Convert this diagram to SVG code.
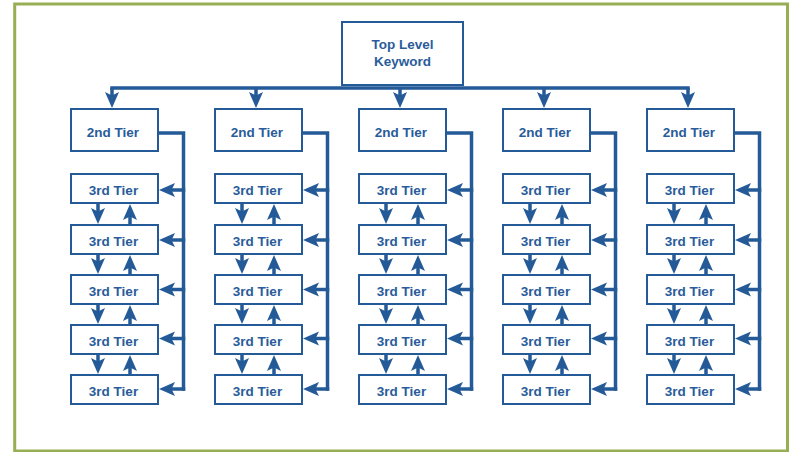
<svg xmlns="http://www.w3.org/2000/svg" width="792" height="452" viewBox="0 0 792 452">
<defs>
<style>
.frame{fill:#fff;stroke:#98AE55;stroke-width:3}
.box{fill:#fff;stroke:#235A97;stroke-width:2}
.ln{fill:none;stroke:#235A97;stroke-width:3.5}
.arr{fill:none;stroke:#235A97;stroke-width:3.5;marker-end:url(#ah)}
.t{font-family:"Liberation Sans",Arial,sans-serif;font-weight:bold;font-size:13.5px;fill:#2A5C9A;text-anchor:middle}
</style>
<marker id="ah" viewBox="0 0 16 16" refX="6" refY="8" markerWidth="16" markerHeight="16" orient="auto" markerUnits="userSpaceOnUse">
<path d="M0,1 L16,8 L0,15 L3.5,8 Z" fill="#235A97"/>
</marker>
</defs>
<rect class="frame" x="14.7" y="4" width="772.8" height="447"/>

<g id="connectors">
<path class="ln" d="M110.25,88 H689.75"/>
<path class="arr" d="M112,88 V98"/>
<path class="arr" d="M256,88 V98"/>
<path class="arr" d="M400,88 V98"/>
<path class="arr" d="M544,88 V98"/>
<path class="arr" d="M688,88 V98"/>
<path class="ln" d="M158,133 H183.5 V390.75"/>
<path class="ln" d="M302,133 H327.5 V390.75"/>
<path class="ln" d="M446,133 H471.5 V390.75"/>
<path class="ln" d="M590,133 H615.5 V390.75"/>
<path class="ln" d="M734,133 H759.5 V390.75"/>
<path class="arr" d="M185.25,190 H169"/><path class="arr" d="M185.25,240 H169"/><path class="arr" d="M185.25,289.5 H169"/><path class="arr" d="M185.25,338.5 H169"/><path class="arr" d="M185.25,389 H169"/>
<path class="arr" d="M329.25,190 H313"/><path class="arr" d="M329.25,240 H313"/><path class="arr" d="M329.25,289.5 H313"/><path class="arr" d="M329.25,338.5 H313"/><path class="arr" d="M329.25,389 H313"/>
<path class="arr" d="M473.25,190 H457"/><path class="arr" d="M473.25,240 H457"/><path class="arr" d="M473.25,289.5 H457"/><path class="arr" d="M473.25,338.5 H457"/><path class="arr" d="M473.25,389 H457"/>
<path class="arr" d="M617.25,190 H601"/><path class="arr" d="M617.25,240 H601"/><path class="arr" d="M617.25,289.5 H601"/><path class="arr" d="M617.25,338.5 H601"/><path class="arr" d="M617.25,389 H601"/>
<path class="arr" d="M761.25,190 H745"/><path class="arr" d="M761.25,240 H745"/><path class="arr" d="M761.25,289.5 H745"/><path class="arr" d="M761.25,338.5 H745"/><path class="arr" d="M761.25,389 H745"/>
<!-- down arrows -->
<path class="arr" d="M98,204 V214"/><path class="arr" d="M98,255 V264"/><path class="arr" d="M98,305 V314"/><path class="arr" d="M98,355 V364"/>
<path class="arr" d="M242,204 V214"/><path class="arr" d="M242,255 V264"/><path class="arr" d="M242,305 V314"/><path class="arr" d="M242,355 V364"/>
<path class="arr" d="M386,204 V214"/><path class="arr" d="M386,255 V264"/><path class="arr" d="M386,305 V314"/><path class="arr" d="M386,355 V364"/>
<path class="arr" d="M530,204 V214"/><path class="arr" d="M530,255 V264"/><path class="arr" d="M530,305 V314"/><path class="arr" d="M530,355 V364"/>
<path class="arr" d="M674,204 V214"/><path class="arr" d="M674,255 V264"/><path class="arr" d="M674,305 V314"/><path class="arr" d="M674,355 V364"/>
<!-- up arrows -->
<path class="arr" d="M130,224 V214"/><path class="arr" d="M130,274 V265"/><path class="arr" d="M130,324 V315"/><path class="arr" d="M130,374 V365"/>
<path class="arr" d="M274,224 V214"/><path class="arr" d="M274,274 V265"/><path class="arr" d="M274,324 V315"/><path class="arr" d="M274,374 V365"/>
<path class="arr" d="M418,224 V214"/><path class="arr" d="M418,274 V265"/><path class="arr" d="M418,324 V315"/><path class="arr" d="M418,374 V365"/>
<path class="arr" d="M562,224 V214"/><path class="arr" d="M562,274 V265"/><path class="arr" d="M562,324 V315"/><path class="arr" d="M562,374 V365"/>
<path class="arr" d="M706,224 V214"/><path class="arr" d="M706,274 V265"/><path class="arr" d="M706,324 V315"/><path class="arr" d="M706,374 V365"/>
</g>

<g id="top"><rect class="box" x="342" y="22" width="121" height="63"/><text class="t" x="402.5" y="49">Top Level</text><text class="t" x="402.5" y="65.5">Keyword</text></g>

<g id="c1-t2"><rect class="box" x="71" y="109" width="87" height="42"/><text class="t" x="113" y="136.5">2nd Tier</text></g>
<g id="c2-t2"><rect class="box" x="215" y="109" width="87" height="42"/><text class="t" x="257" y="136.5">2nd Tier</text></g>
<g id="c3-t2"><rect class="box" x="359" y="109" width="87" height="42"/><text class="t" x="401" y="136.5">2nd Tier</text></g>
<g id="c4-t2"><rect class="box" x="503" y="109" width="87" height="42"/><text class="t" x="545" y="136.5">2nd Tier</text></g>
<g id="c5-t2"><rect class="box" x="647" y="109" width="87" height="42"/><text class="t" x="689" y="136.5">2nd Tier</text></g>

<g id="c1-a"><rect class="box" x="71" y="174" width="87" height="29"/><text class="t" x="113.5" y="194.5">3rd Tier</text></g>
<g id="c1-b"><rect class="box" x="71" y="225" width="87" height="29"/><text class="t" x="113.5" y="245.5">3rd Tier</text></g>
<g id="c1-c"><rect class="box" x="71" y="275" width="87" height="29"/><text class="t" x="113.5" y="295.5">3rd Tier</text></g>
<g id="c1-d"><rect class="box" x="71" y="325" width="87" height="29"/><text class="t" x="113.5" y="345.5">3rd Tier</text></g>
<g id="c1-e"><rect class="box" x="71" y="375" width="87" height="29"/><text class="t" x="113.5" y="395.5">3rd Tier</text></g>

<g id="c2-a"><rect class="box" x="215" y="174" width="87" height="29"/><text class="t" x="257.5" y="194.5">3rd Tier</text></g>
<g id="c2-b"><rect class="box" x="215" y="225" width="87" height="29"/><text class="t" x="257.5" y="245.5">3rd Tier</text></g>
<g id="c2-c"><rect class="box" x="215" y="275" width="87" height="29"/><text class="t" x="257.5" y="295.5">3rd Tier</text></g>
<g id="c2-d"><rect class="box" x="215" y="325" width="87" height="29"/><text class="t" x="257.5" y="345.5">3rd Tier</text></g>
<g id="c2-e"><rect class="box" x="215" y="375" width="87" height="29"/><text class="t" x="257.5" y="395.5">3rd Tier</text></g>

<g id="c3-a"><rect class="box" x="359" y="174" width="87" height="29"/><text class="t" x="401.5" y="194.5">3rd Tier</text></g>
<g id="c3-b"><rect class="box" x="359" y="225" width="87" height="29"/><text class="t" x="401.5" y="245.5">3rd Tier</text></g>
<g id="c3-c"><rect class="box" x="359" y="275" width="87" height="29"/><text class="t" x="401.5" y="295.5">3rd Tier</text></g>
<g id="c3-d"><rect class="box" x="359" y="325" width="87" height="29"/><text class="t" x="401.5" y="345.5">3rd Tier</text></g>
<g id="c3-e"><rect class="box" x="359" y="375" width="87" height="29"/><text class="t" x="401.5" y="395.5">3rd Tier</text></g>

<g id="c4-a"><rect class="box" x="503" y="174" width="87" height="29"/><text class="t" x="545.5" y="194.5">3rd Tier</text></g>
<g id="c4-b"><rect class="box" x="503" y="225" width="87" height="29"/><text class="t" x="545.5" y="245.5">3rd Tier</text></g>
<g id="c4-c"><rect class="box" x="503" y="275" width="87" height="29"/><text class="t" x="545.5" y="295.5">3rd Tier</text></g>
<g id="c4-d"><rect class="box" x="503" y="325" width="87" height="29"/><text class="t" x="545.5" y="345.5">3rd Tier</text></g>
<g id="c4-e"><rect class="box" x="503" y="375" width="87" height="29"/><text class="t" x="545.5" y="395.5">3rd Tier</text></g>

<g id="c5-a"><rect class="box" x="647" y="174" width="87" height="29"/><text class="t" x="689.5" y="194.5">3rd Tier</text></g>
<g id="c5-b"><rect class="box" x="647" y="225" width="87" height="29"/><text class="t" x="689.5" y="245.5">3rd Tier</text></g>
<g id="c5-c"><rect class="box" x="647" y="275" width="87" height="29"/><text class="t" x="689.5" y="295.5">3rd Tier</text></g>
<g id="c5-d"><rect class="box" x="647" y="325" width="87" height="29"/><text class="t" x="689.5" y="345.5">3rd Tier</text></g>
<g id="c5-e"><rect class="box" x="647" y="375" width="87" height="29"/><text class="t" x="689.5" y="395.5">3rd Tier</text></g>
</svg>
